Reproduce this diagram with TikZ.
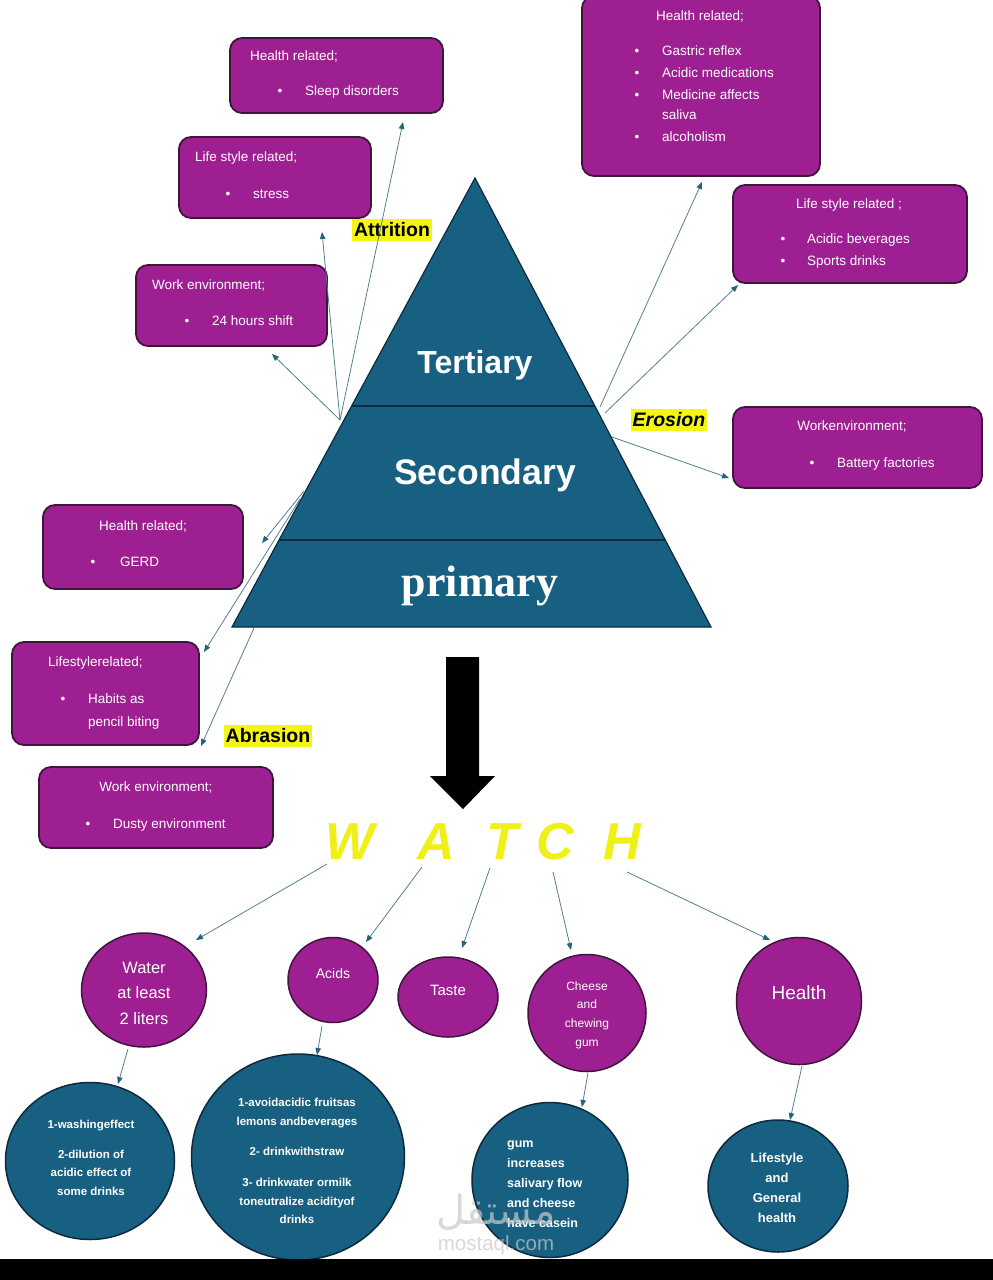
\documentclass[tikz,border=0pt]{standalone}
\usepackage{fontspec}
\setmainfont{Liberation Sans}
\newfontfamily\serifb{Liberation Serif}
\newfontfamily\arabicfont[Script=Arabic]{DejaVu Sans}
\TeXXeTstate=1
\usetikzlibrary{arrows.meta,calc,shapes.geometric}
\definecolor{pur}{RGB}{158,31,146}
\definecolor{purd}{RGB}{62,22,60}
\definecolor{tblue}{RGB}{24,96,130}
\definecolor{tblued}{RGB}{12,42,62}
\definecolor{arrc}{RGB}{85,128,145}
\definecolor{arrh}{RGB}{35,100,122}
\definecolor{hl}{RGB}{245,245,20}
\definecolor{wy}{RGB}{240,240,25}
\definecolor{wmark}{RGB}{200,200,200}
\tikzset{
  pbox/.style={draw=purd, line width=1.8pt, fill=pur, rounded corners=12pt, inner sep=0pt},
  bt/.style={text=white, font=\fontsize{13.5}{16}\selectfont, inner sep=0pt, text height=10pt, text depth=3pt},
  pcirc/.style={ellipse, draw=purd, line width=1.5pt, fill=pur, inner sep=0pt},
  bcirc/.style={ellipse, draw=tblued, line width=1.5pt, fill=tblue, inner sep=0pt},
  ct/.style={text=white, align=center, inner sep=0pt},
  arr/.style={draw=arrc, line width=0.8pt, -{Triangle[length=7pt,width=5.5pt,fill=arrh,color=arrh]}},
  hlab/.style={fill=hl, text=black, font=\fontsize{19.5}{20}\selectfont\bfseries, inner xsep=2pt, inner ysep=3.5pt},
  tri/.style={text=white, inner sep=0pt},
  watchL/.style={text=wy, font=\fontsize{52}{52}\selectfont\bfseries\itshape, inner sep=0pt},
  divl/.style={draw=tblued, line width=2pt}
}
\begin{document}
\begin{tikzpicture}[x=1pt,y=-1pt]
\useasboundingbox (0,0) rectangle (993,1280);
\fill[white] (0,0) rectangle (993,1280);

% ---------- triangle ----------
\coordinate (apex) at (475,178);
\coordinate (bl) at (232,627);
\coordinate (br) at (711,627);
\filldraw[fill=tblue, draw=tblued, line width=1.2pt] (apex) -- (br) -- (bl) -- cycle;
\draw[divl] ($(apex)!0.5078!(bl)$) -- ($(apex)!0.5078!(br)$);
\draw[divl] ($(apex)!0.8062!(bl)$) -- ($(apex)!0.8062!(br)$);
\node[tri, font=\fontsize{32}{32}\selectfont\bfseries] (tert) at (475,365) {Tertiary};
\node[tri, font=\fontsize{35.5}{36}\selectfont\bfseries] (seco) at (485,475) {Secondary};
\node[tri, font=\serifb\fontsize{44}{44}\selectfont\bfseries] (prim) at (480,586) {primary};

% ---------- boxes ----------
\node[pbox, minimum width=213pt, minimum height=75pt] (bSleep) at (336.5,75.5) {};
\node[pbox, minimum width=192pt, minimum height=81pt] (bStress) at (275,177.5) {};
\node[pbox, minimum width=191pt, minimum height=81pt] (bShift) at (231.5,305.5) {};
\node[pbox, minimum width=238pt, minimum height=180pt] (bGastric) at (701,86) {};
\node[pbox, minimum width=234pt, minimum height=98pt] (bAcidic) at (850,234) {};
\node[pbox, minimum width=249pt, minimum height=81pt] (bBattery) at (857.5,447.5) {};
\node[pbox, minimum width=200pt, minimum height=84pt] (bGerd) at (143,547) {};
\node[pbox, minimum width=187pt, minimum height=103pt] (bHabits) at (105.5,693.5) {};
\node[pbox, minimum width=234pt, minimum height=81pt] (bDusty) at (156,807.5) {};

% box texts
\node[bt, anchor=west] (t1a) at (250,57) {Health related;};
\node[bt] (t1b) at (280,92) {•};
\node[bt, anchor=west] (t1c) at (305,92) {Sleep disorders};

\node[bt, anchor=west] (t2a) at (195,158) {Life style related;};
\node[bt] (t2b) at (228,195) {•};
\node[bt, anchor=west] (t2c) at (253,195) {stress};

\node[bt, anchor=west] (t3a) at (152,286) {Work environment;};
\node[bt] (t3b) at (187,322) {•};
\node[bt, anchor=west] (t3c) at (212,322) {24 hours shift};

\node[bt] (t4a) at (700,17) {Health related;};
\node[bt] (t4b1) at (637,52) {•};
\node[bt, anchor=west] (t4c1) at (662,52) {Gastric reflex};
\node[bt] (t4b2) at (637,74) {•};
\node[bt, anchor=west] (t4c2) at (662,74) {Acidic medications};
\node[bt] (t4b3) at (637,96) {•};
\node[bt, anchor=west] (t4c3) at (662,96) {Medicine affects};
\node[bt, anchor=west] (t4c4) at (662,116) {saliva};
\node[bt] (t4b5) at (637,138) {•};
\node[bt, anchor=west] (t4c5) at (662,138) {alcoholism};

\node[bt] (t5a) at (849,205) {Life style related ;};
\node[bt] (t5b1) at (783,240) {•};
\node[bt, anchor=west] (t5c1) at (807,240) {Acidic beverages};
\node[bt] (t5b2) at (783,262) {•};
\node[bt, anchor=west] (t5c2) at (807,262) {Sports drinks};

\node[bt] (t6a) at (852,427) {Workenvironment;};
\node[bt] (t6b) at (812,464) {•};
\node[bt, anchor=west] (t6c) at (837,464) {Battery factories};

\node[bt] (t7a) at (143,527) {Health related;};
\node[bt] (t7b) at (93,563) {•};
\node[bt, anchor=west] (t7c) at (120,563) {GERD};

\node[bt, anchor=west] (t8a) at (48,663) {Lifestylerelated;};
\node[bt] (t8b) at (63,700) {•};
\node[bt, anchor=west] (t8c) at (88,700) {Habits as};
\node[bt, anchor=west] (t8d) at (88,723) {pencil biting};

\node[bt] (t9a) at (156,788) {Work environment;};
\node[bt] (t9b) at (88,825) {•};
\node[bt, anchor=west] (t9c) at (113,825) {Dusty environment};

% ---------- highlighted labels ----------
\node[hlab] (attr) at (392,230) {Attrition};
\node[hlab, font=\fontsize{19.5}{20}\selectfont\bfseries\itshape] (eros) at (669,420) {Erosion};
\node[hlab] (abra) at (268,736) {Abrasion};

% ---------- arrows from the triangle ----------
\coordinate (attO) at (340,420);
\coordinate (tipSleep) at (403,122);
\coordinate (tipStress) at (322,232);
\coordinate (tipShift) at (272,354);
\draw[arr] (attO) -- (tipSleep);
\draw[arr] (attO) -- (tipStress);
\draw[arr] (attO) -- (tipShift);

\coordinate (eroO1) at (600,407);
\coordinate (eroO2) at (605,413);
\coordinate (eroO3) at (612,437);
\coordinate (tipGastric) at (702,182);
\coordinate (tipAcidic) at (738,285);
\coordinate (tipBattery) at (729,478);
\draw[arr] (eroO1) -- (tipGastric);
\draw[arr] (eroO2) -- (tipAcidic);
\draw[arr] (eroO3) -- (tipBattery);

\coordinate (abrO1) at (304,491);
\coordinate (abrO2) at (300,499);
\coordinate (abrO3) at (254,628);
\coordinate (tipGerd) at (262,543);
\coordinate (tipHabits) at (204,652);
\coordinate (tipDusty) at (201,746);
\draw[arr] (abrO1) -- (tipGerd);
\draw[arr] (abrO2) -- (tipHabits);
\draw[arr] (abrO3) -- (tipDusty);

% ---------- big black arrow ----------
\fill[black] (446,657) -- (479,657) -- (479,776) -- (495,776) -- (463,809) -- (430,776) -- (446,776) -- cycle;

% ---------- WATCH ----------
\node[watchL] (w) at (350,842) {W};
\node[watchL] (a) at (436,842) {A};
\node[watchL] (t) at (502,842) {T};
\node[watchL] (c) at (555,842) {C};
\node[watchL] (h) at (622,842) {H};

% ---------- purple circles ----------
\node[pcirc, minimum width=125pt, minimum height=114pt] (water) at (144,990) {};
\node[pcirc, minimum width=90pt, minimum height=85pt] (acids) at (333,980) {};
\node[pcirc, minimum width=100pt, minimum height=80pt] (taste) at (448,997) {};
\node[pcirc, minimum width=118pt, minimum height=117pt] (cheese) at (587,1013) {};
\node[pcirc, minimum width=125pt, minimum height=127pt] (health) at (799,1001) {};

\node[ct, font=\fontsize{16.5}{25.5}\selectfont] (waterT) at (144,993) {Water\\at least\\2 liters};
\node[ct, font=\fontsize{14}{16}\selectfont] (acidsT) at (333,973) {Acids};
\node[ct, font=\fontsize{15}{17}\selectfont] (tasteT) at (448,990) {Taste};
\node[ct, font=\fontsize{12}{18.7}\selectfont] (cheeseT) at (587,1015) {Cheese\\and\\chewing\\gum};
\node[ct, font=\fontsize{19}{20}\selectfont] (healthT) at (799,993) {Health};

% ---------- blue circles ----------
\node[bcirc, minimum width=169pt, minimum height=157pt] (waterb) at (90,1161) {};
\node[bcirc, minimum width=213pt, minimum height=206pt] (acidsb) at (298,1157) {};
\node[bcirc, minimum width=156pt, minimum height=155pt] (cheeseb) at (550,1180) {};
\node[bcirc, minimum width=140pt, minimum height=132pt] (healthb) at (778,1186) {};

\node[ct, font=\fontsize{11.5}{18.5}\selectfont\bfseries] (waterbT) at (91,1158) {1-washingeffect\\[11pt]2-dilution of\\acidic effect of\\some drinks};
\node[ct, font=\fontsize{11.5}{18.3}\selectfont\bfseries] (acidsbT) at (297,1161) {1-avoidacidic fruitsas\\lemons andbeverages\\[12.5pt]2- drinkwithstraw\\[12.5pt]3- drinkwater ormilk\\toneutralize acidityof\\drinks};
\node[ct, align=left, anchor=west, font=\fontsize{12.5}{20}\selectfont\bfseries] (cheesebT) at (507,1184) {gum\\increases\\salivary flow\\and cheese\\have casein};
\node[ct, font=\fontsize{13}{20}\selectfont\bfseries] (healthbT) at (777,1188) {Lifestyle\\and\\General\\health};

% ---------- arrows from WATCH ----------
\coordinate (wS) at (327,864);
\coordinate (aS) at (422,867);
\coordinate (tS) at (490,868);
\coordinate (cS) at (553,872);
\coordinate (hS) at (627,872);
\coordinate (tipWater) at (196,940);
\coordinate (tipAcids) at (366,942);
\coordinate (tipTaste) at (462,948);
\coordinate (tipCheese) at (571,950);
\coordinate (tipHealth) at (770,940);
\draw[arr] (wS) -- (tipWater);
\draw[arr] (aS) -- (tipAcids);
\draw[arr] (tS) -- (tipTaste);
\draw[arr] (cS) -- (tipCheese);
\draw[arr] (hS) -- (tipHealth);

% ---------- arrows purple -> blue ----------
\coordinate (waterO) at (128,1049);
\coordinate (acidsO) at (322,1026);
\coordinate (cheeseO) at (588,1073);
\coordinate (healthO) at (802,1066);
\coordinate (tipWaterb) at (118,1084);
\coordinate (tipAcidsb) at (317,1055);
\coordinate (tipCheeseb) at (582,1107);
\coordinate (tipHealthb) at (790,1120);
\draw[arr] (waterO) -- (tipWaterb);
\draw[arr] (acidsO) -- (tipAcidsb);
\draw[arr] (cheeseO) -- (tipCheeseb);
\draw[arr] (healthO) -- (tipHealthb);

% ---------- watermark ----------
\node[text=wmark, opacity=0.7, inner sep=0pt, font=\arabicfont\fontsize{40}{40}\selectfont] (wm1) at (496,1212) {\beginR مستقل\endR};
\node[text=wmark, opacity=0.7, inner sep=0pt, font=\fontsize{20.5}{21}\selectfont] (wm2) at (496,1245) {mostaql.com};

% ---------- bottom bar ----------
\fill[black] (0,1259) rectangle (993,1280);
\end{tikzpicture}
\end{document}
